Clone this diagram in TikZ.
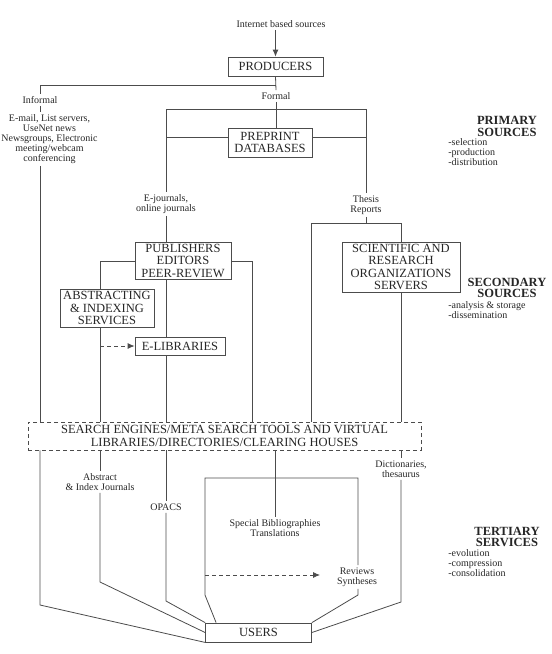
\documentclass[tikz,border=0pt]{standalone}
\usepackage{fontspec}
\setmainfont{Liberation Serif}
\usetikzlibrary{arrows.meta}

\begin{document}
\begin{tikzpicture}[x=1pt, y=-1pt, >={Latex[length=7pt,width=6pt]}, line width=0.8pt, color=black!70,
  box/.style={draw=black!70, rectangle, align=center, inner sep=0pt, text=black!85,
    font=\fontsize{12.5}{12.5}\selectfont},
  lbl/.style={align=center, inner sep=2pt, text=black!85, font=\fontsize{10}{10}\selectfont},
  head/.style={align=center, inner sep=0pt, text=black!85, font=\bfseries\fontsize{12.5}{11.5}\selectfont},
  lst/.style={align=left, anchor=north west, inner sep=0pt, text=black!85, font=\fontsize{10}{10}\selectfont},
  dashline/.style={dashed, dash pattern=on 4pt off 3pt}]
  \useasboundingbox (0,0) rectangle (552,654);

  % boxes and labels
  \node[lbl] (inet) at (281,24) {Internet based sources};
  \node[box, minimum width=95pt, minimum height=19pt] (prod) at (275.5,66.5) {PRODUCERS};
  \node[lbl] (formal) at (276,96) {Formal};
  \node[lbl] (informal) at (40,100) {Informal};
  \node[lbl] (email) at (49.5,139) {E-mail, List servers,\\UseNet news\\Newsgroups, Electronic\\meeting/webcam\\conferencing};
  \node[box, minimum width=84pt, minimum height=29pt] (prep) at (270,142.5) {PREPRINT\\DATABASES};
  \node[lbl] (ejour) at (166,204) {E-journals,\\online journals};
  \node[lbl] (thesis) at (366,205) {Thesis\\Reports};
  \node[box, minimum width=96pt, minimum height=37pt] (publ) at (183,260.5) {PUBLISHERS\\EDITORS\\PEER-REVIEW};
  \node[box, minimum width=118pt, minimum height=50pt] (sci) at (401,267) {SCIENTIFIC AND\\RESEARCH\\ORGANIZATIONS\\SERVERS};
  \node[box, minimum width=94pt, minimum height=38pt] (abstr) at (107,308) {ABSTRACTING\\\& INDEXING\\SERVICES};
  \node[box, minimum width=90pt, minimum height=18pt] (elib) at (180,346) {E-LIBRARIES};
  \node[box, dashline, minimum width=393pt, minimum height=28pt] (search) at (224.5,436)
    {SEARCH ENGINES/META SEARCH TOOLS AND VIRTUAL\\LIBRARIES/DIRECTORIES/CLEARING HOUSES};
  \node[lbl] (absj) at (100,482) {Abstract\\\& Index Journals};
  \node[lbl] (opacs) at (166,507) {OPACS};
  \node[lbl] (spec) at (275,528) {Special Bibliographies\\Translations};
  \node[lbl] (rev) at (357,577) {Reviews\\Syntheses};
  \node[lbl] (dict) at (401,469) {Dictionaries,\\thesaurus};
  \node[box, minimum width=106pt, minimum height=19pt] (users) at (258.5,632.5) {USERS};

  \node[head] (prim) at (507,126.5) {PRIMARY\\SOURCES};
  \node[lst] (primL) at (448,138) {-selection\\-production\\-distribution};
  \node[head] (sec) at (507,288) {SECONDARY\\SOURCES};
  \node[lst] (secL) at (448,301) {-analysis \& storage\\-dissemination};
  \node[head] (ter) at (507,537) {TERTIARY\\SERVICES};
  \node[lst] (terL) at (448,549) {-evolution\\-compression\\-consolidation};

  % junctions and bends
  \coordinate (jInf) at (40,85);
  \coordinate (jL) at (166,109);
  \coordinate (jR) at (366,109);
  \coordinate (pL) at (166,137);
  \coordinate (pR) at (366,137);
  \coordinate (tL) at (311,223);
  \coordinate (tR) at (401,223);
  \coordinate (pbL) at (100,261);
  \coordinate (pbR) at (252,261);
  \coordinate (kInf) at (40,605);
  \coordinate (kAbs) at (100,582);
  \coordinate (kOp) at (166,601);
  \coordinate (fTL) at (205,478);
  \coordinate (fTR) at (358,478);
  \coordinate (fBL) at (205,595);
  \coordinate (fBR) at (358,595);
  \coordinate (kDic) at (401,602);
  \coordinate (revArr) at (320,575);

  % upper part
  \draw[->] (inet.south -| prod.north) -- (prod.north);
  \draw (prod.south) -- (formal.north);
  \draw (prod.south |- jInf) -- (jInf) -- (informal.north);
  \draw (informal.south) -- (informal.south |- email.north);
  \draw (email.south -| jInf) -- (jInf |- search.north);
  \draw (formal.south) -- (formal.south |- prep.north);
  \draw (jL) -- (jR);
  \draw (jL) -- (ejour.north);
  \draw (jR) -- (thesis.north);
  \draw (pL) -- (pL -| prep.west);
  \draw (prep.east |- pR) -- (pR);
  \draw (ejour.south) -- (ejour.south |- publ.north);
  \draw (thesis.south) -- (thesis.south |- tL);
  \draw (tL) -- (tR) -- (sci.north);
  \draw (tL) -- (tL |- search.north);
  \draw (sci.south) -- (sci.south |- search.north);
  \draw (publ.east |- pbR) -- (pbR) -- (pbR |- search.north);
  \draw (publ.west |- pbL) -- (pbL) -- (pbL |- abstr.north);
  \draw (abstr.south -| pbL) -- (pbL |- search.north);
  \draw[dashline, ->] (pbL |- elib.west) -- (elib.west);
  \draw (publ.south -| jL) -- (elib.north -| jL);
  \draw (elib.south -| jL) -- (search.north -| jL);

  % lower part
  \draw (search.south -| jInf) -- (kInf) -- (users.south west);
  \draw (search.south -| absj) -- (absj.north);
  \draw (absj.south) -- (kAbs) -- (users.west);
  \draw (search.south -| opacs) -- (opacs.north);
  \draw (opacs.south) -- (kOp) -- (users.north west);
  \draw (search.south -| spec) -- (spec.north);
  \draw (rev.north -| fTR) -- (fTR) -- (fTL) -- (fBL) -- ([xshift=11pt]users.north west);
  \draw (rev.south -| fTR) -- (fBR) -- (users.north east);
  \draw[dashline, ->] (fTL |- revArr) -- (revArr);
  \draw (search.south -| dict) -- (dict.north);
  \draw (dict.south) -- (kDic) -- (users.east);
\end{tikzpicture}
\end{document}
